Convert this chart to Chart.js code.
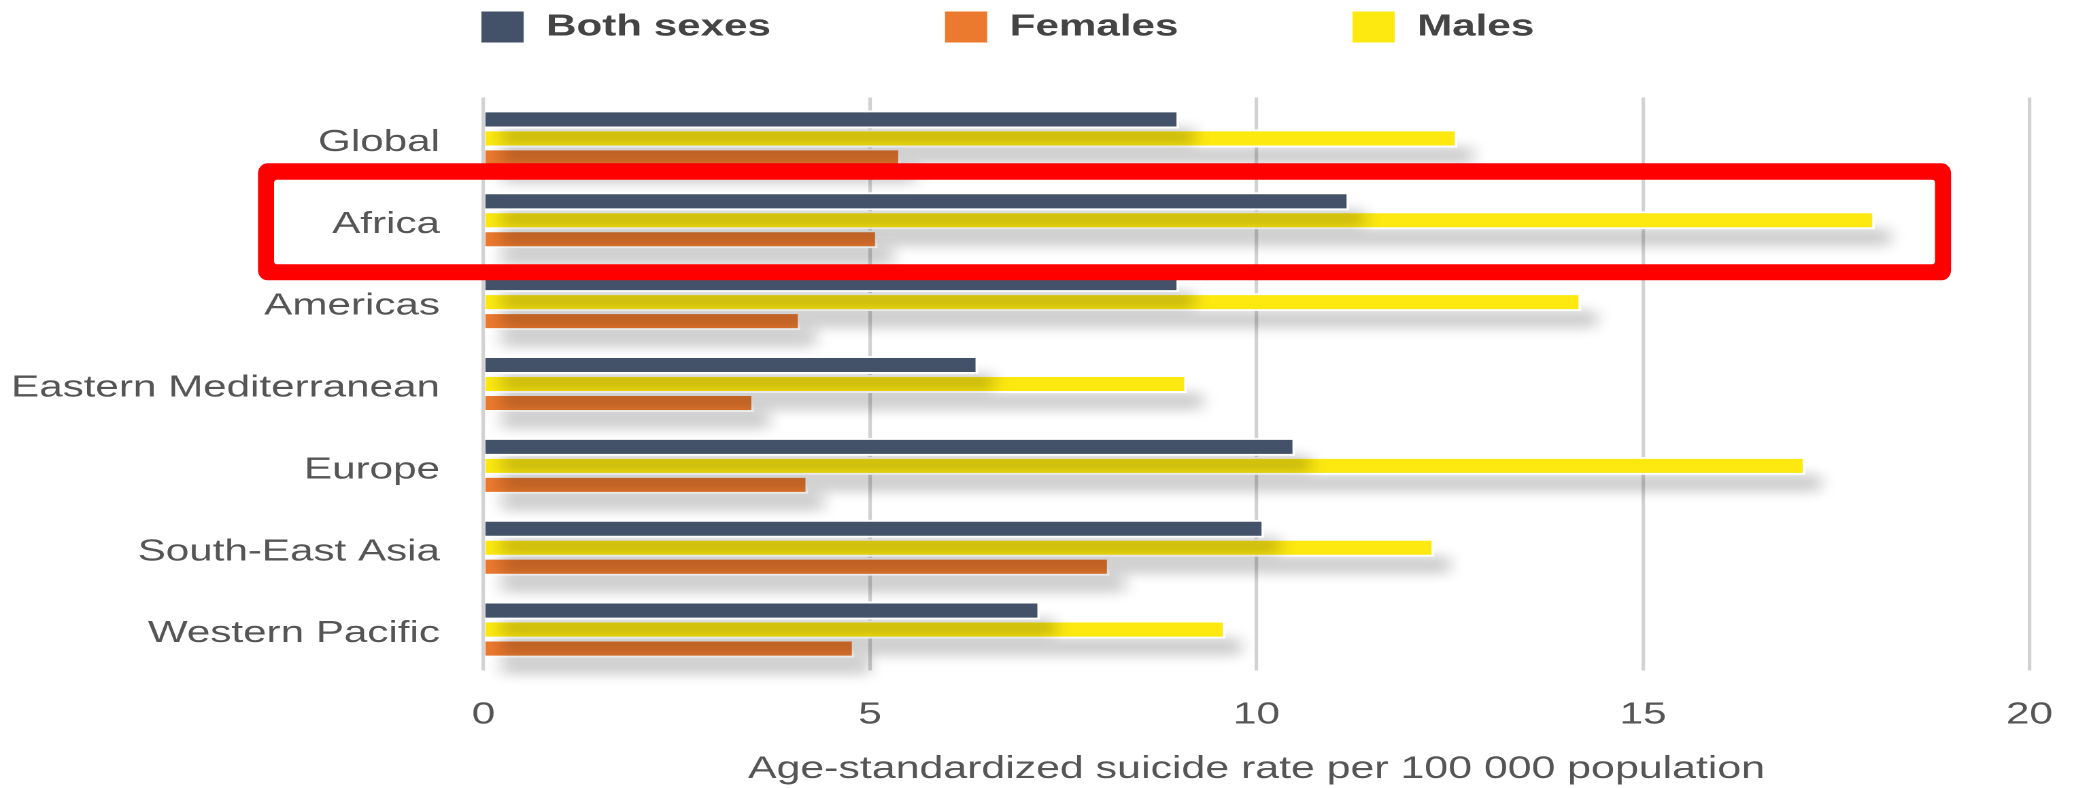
<!DOCTYPE html>
<html lang="en">
<head>
<meta charset="utf-8">
<title>Age-standardized suicide rate by WHO region</title>
<script src="https://cdn.jsdelivr.net/npm/chart.js@4.4.1/dist/chart.umd.min.js"></script>
<style>
    html, body { margin: 0; padding: 0; background: #fff; overflow: hidden; }
    /* the source picture is stretched sideways: lay the chart out narrower and scale it back out */
    #chartBox { position: relative; width: 1525px; height: 788px; transform: scaleX(1.36); transform-origin: 0 0; }
</style>
</head>
<body>
<div id="chartBox"><canvas id="rateChart"></canvas></div>
<script>
const regions = ['Global', 'Africa', 'Americas', 'Eastern Mediterranean', 'Europe', 'South-East Asia', 'Western Pacific'];
const bothSexes = [9.0, 11.2, 9.0, 6.4, 10.5, 10.1, 7.2];
const males = [12.6, 18.0, 14.2, 9.1, 17.1, 12.3, 9.6];
const females = [5.4, 5.1, 4.1, 3.5, 4.2, 8.1, 4.8];
const xTicks = [0, 5, 10, 15, 20];
const legendOrder = ['Both sexes', 'Females', 'Males'];
const highlightRegion = 'Africa';

const FONT = '"Liberation Sans", Arial, sans-serif';
const LEGEND_HEIGHT = 97.5;

// soft drop shadow under each bar, painted just before its dataset so later datasets cover it
const barShadow = {
    id: 'barShadow',
    beforeDatasetDraw: function (chart, args) {
        const ctx = chart.ctx;
        const ratio = chart.currentDevicePixelRatio;
        const far = 4000;
        ctx.save();
        ctx.shadowColor = 'rgba(0, 0, 0, 0.2)';
        ctx.shadowBlur = 12 * ratio;
        ctx.shadowOffsetX = (far + 11.5) * ratio;
        ctx.shadowOffsetY = 17 * ratio;
        ctx.fillStyle = '#000';
        args.meta.data.forEach(bar => {
            const p = bar.getProps(['x', 'y', 'base', 'height'], true);
            ctx.fillRect(Math.min(p.x, p.base) - far, p.y - p.height / 2, Math.abs(p.x - p.base), p.height);
        });
        ctx.restore();
    }
};

// legend sits on its own row above the plot, starting at the plot's left edge
const legendPlacement = {
    id: 'legendPlacement',
    beforeLayout: function (chart) {
        const legend = chart.legend;
        if (!legend || legend._fixedHeight) return;
        const fit = legend.fit;
        legend.fit = function () {
            fit.call(this);
            this.height = LEGEND_HEIGHT;
        };
        legend._fixedHeight = true;
    },
    afterLayout: function (chart) {
        const legend = chart.legend;
        const pad = legend.options.labels.padding;
        legend.left = chart.chartArea.left - 2.5 - pad;
        legend.top = 10.5 - pad;
    }
};

// red frame drawn round the highlighted region
const highlightBox = {
    id: 'highlightBox',
    afterDraw: function (chart) {
        const { ctx, chartArea, scales } = chart;
        const cy = scales.y.getPixelForValue(regions.indexOf(highlightRegion));
        const left = chartArea.left - 165.8;
        const right = chartArea.right - 57.7;
        const top = cy - 57;
        const bottom = cy + 60;
        ctx.save();
        ctx.fillStyle = '#ff0000';
        ctx.beginPath();
        ctx.roundRect(left, top, right - left, bottom - top, [{ x: 7, y: 10 }]);
        ctx.roundRect(left + 11.8, top + 16.5, right - left - 23.6, bottom - top - 32.5, [{ x: 2, y: 3 }]);
        ctx.fill('evenodd');
        ctx.restore();
    }
};

new Chart(document.getElementById('rateChart'), {
    type: 'bar',
    data: {
        labels: regions,
        datasets: [
            { label: 'Both sexes', data: bothSexes, backgroundColor: '#435269' },
            { label: 'Males', data: males, backgroundColor: '#fde910' },
            { label: 'Females', data: females, backgroundColor: '#ec7a2e' }
        ]
    },
    options: {
        indexAxis: 'y',
        responsive: true,
        maintainAspectRatio: false,
        animation: false,
        events: [],
        devicePixelRatio: 2,
        layout: { padding: { left: 0, right: 32.7, top: 0, bottom: 0 } },
        datasets: {
            bar: {
                categoryPercentage: 0.696,
                barPercentage: 0.95,
                borderColor: '#ffffff',
                borderWidth: 2
            }
        },
        plugins: {
            tooltip: { enabled: false },
            legend: {
                position: 'top',
                align: 'start',
                labels: {
                    boxWidth: 33,
                    boxHeight: 33,
                    padding: 127,
                    color: '#444444',
                    font: { family: FONT, size: 31, weight: 'bold' },
                    sort: (a, b) => legendOrder.indexOf(a.text) - legendOrder.indexOf(b.text)
                }
            }
        },
        scales: {
            x: {
                min: 0,
                max: 20,
                afterBuildTicks: scale => { scale.ticks = xTicks.map(v => ({ value: v })); },
                afterFit: scale => {
                    scale.height = 117.5;
                    scale.paddingLeft = 0;
                    scale.paddingRight = 0;
                },
                grid: { color: '#d2d2d2', lineWidth: 2.6, drawTicks: false },
                border: { display: false },
                ticks: {
                    padding: 26,
                    color: '#555555',
                    font: { family: FONT, size: 31 }
                },
                title: {
                    display: true,
                    text: 'Age-standardized suicide rate per 100 000 population',
                    color: '#555555',
                    padding: { top: 0, bottom: 0 },
                    font: { family: FONT, size: 31.5 }
                }
            },
            y: {
                afterFit: scale => { scale.width = 355.5; },
                grid: { display: false, drawTicks: false },
                border: { display: false },
                ticks: {
                    autoSkip: false,
                    padding: 32,
                    labelOffset: 4,
                    color: '#555555',
                    font: { family: FONT, size: 31 }
                }
            }
        }
    },
    plugins: [barShadow, legendPlacement, highlightBox]
});
</script>
</body>
</html>
